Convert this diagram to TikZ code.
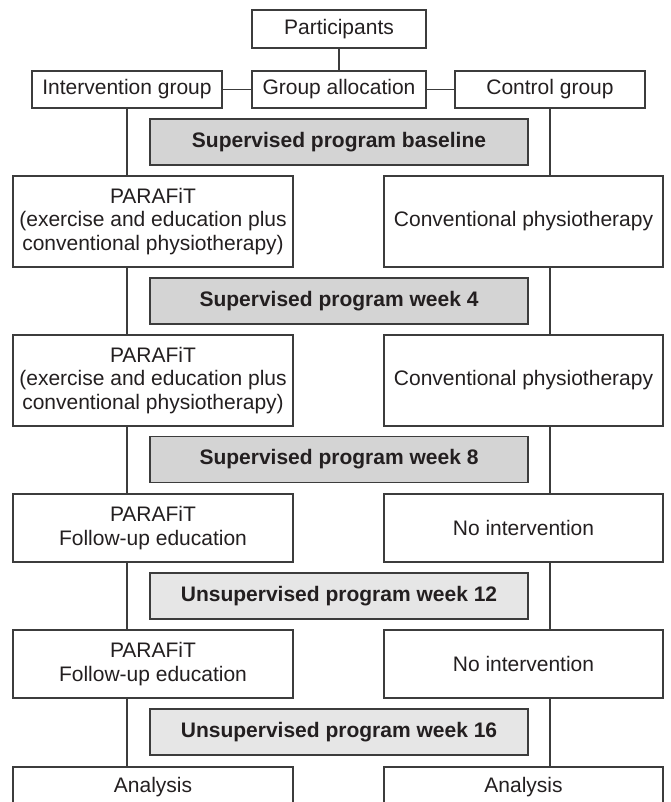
\documentclass[tikz,border=0pt]{standalone}
\usepackage{fontspec}
\setmainfont{Liberation Sans}
\definecolor{ink}{HTML}{231F20}
\definecolor{edge}{HTML}{3C3C3C}
\definecolor{graydark}{HTML}{D4D4D4}
\definecolor{graylight}{HTML}{E6E6E6}
\begin{document}
\begin{tikzpicture}[x=1pt,y=-1pt,
  every node/.style={font=\fontsize{21}{23.5}\selectfont, text=ink},
  box/.style={draw=edge, line width=1.4pt, fill=white, inner sep=0pt, outer sep=0pt, align=center},
  stage/.style={box, minimum width=378pt, minimum height=46pt, font=\fontsize{21}{23.5}\selectfont\bfseries},
  dark/.style={stage, fill=graydark},
  light/.style={stage, fill=graylight},
  conn/.style={draw=edge, line width=1.4pt}]
\useasboundingbox (0,0) rectangle (670,802);
\clip (0,0) rectangle (670,802);
\fill[white] (0,0) rectangle (670,802);
% top
\node[box, minimum width=174pt, minimum height=38pt] (part) at (339,29) {Participants};
\node[box, minimum width=190pt, minimum height=37pt] (ig) at (127,89.5) {Intervention group};
\node[box, minimum width=174pt, minimum height=37pt] (ga) at (339,89.5) {Group allocation};
\node[box, minimum width=190pt, minimum height=37pt] (cg) at (550,89.5) {Control group};
% stages
\node[dark] (s0) at (339,142) {Supervised program baseline};
\node[dark] (s4) at (339,301) {Supervised program week 4};
\node[dark] (s8) at (339,459.5) {Supervised program week 8};
\node[light] (s12) at (339,596) {Unsupervised program week 12};
\node[light] (s16) at (339,732) {Unsupervised program week 16};
% left column
\node[box, minimum width=280pt, minimum height=91pt] (la) at (153,221.5) {PARAFiT\\(exercise and education plus\\conventional physiotherapy)};
\node[box, minimum width=280pt, minimum height=91pt] (lb) at (153,380.5) {PARAFiT\\(exercise and education plus\\conventional physiotherapy)};
\node[box, minimum width=280pt, minimum height=68pt] (lc) at (153,528) {PARAFiT\\Follow-up education};
\node[box, minimum width=280pt, minimum height=68pt] (ld) at (153,664) {PARAFiT\\Follow-up education};
\node[box, minimum width=280pt, minimum height=40pt] (le) at (153,787) {Analysis};
% right column
\node[box, minimum width=279pt, minimum height=91pt] (ra) at (523.5,221.5) {Conventional physiotherapy};
\node[box, minimum width=279pt, minimum height=91pt] (rb) at (523.5,380.5) {Conventional physiotherapy};
\node[box, minimum width=279pt, minimum height=68pt] (rc) at (523.5,528) {No intervention};
\node[box, minimum width=279pt, minimum height=68pt] (rd) at (523.5,664) {No intervention};
\node[box, minimum width=279pt, minimum height=40pt] (re) at (523.5,787) {Analysis};
% connectors
\draw[conn] (part.south) -- (ga.north);
\draw[conn] (ig.east) -- (ga.west);
\draw[conn] (ga.east) -- (cg.west);
\draw[conn] (ig.south) -- (ig.south |- la.north);
\draw[conn] (ig.south |- la.south) -- (ig.south |- lb.north);
\draw[conn] (ig.south |- lb.south) -- (ig.south |- lc.north);
\draw[conn] (ig.south |- lc.south) -- (ig.south |- ld.north);
\draw[conn] (ig.south |- ld.south) -- (ig.south |- le.north);
\draw[conn] (cg.south) -- (cg.south |- ra.north);
\draw[conn] (cg.south |- ra.south) -- (cg.south |- rb.north);
\draw[conn] (cg.south |- rb.south) -- (cg.south |- rc.north);
\draw[conn] (cg.south |- rc.south) -- (cg.south |- rd.north);
\draw[conn] (cg.south |- rd.south) -- (cg.south |- re.north);
\end{tikzpicture}
\end{document}
